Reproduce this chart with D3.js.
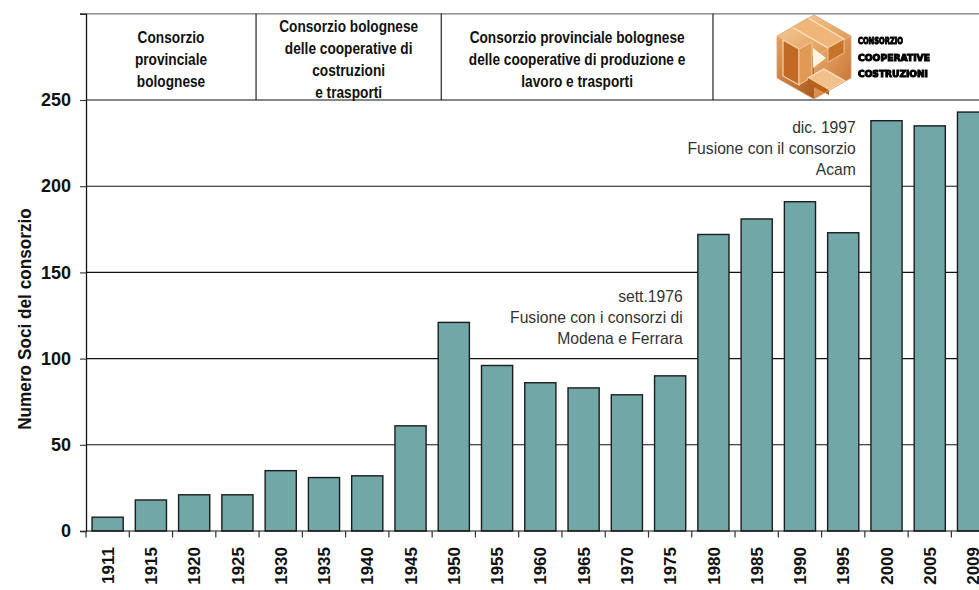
<!DOCTYPE html>
<html>
<head>
<meta charset="utf-8">
<script src="https://cdn.jsdelivr.net/npm/d3@7/dist/d3.min.js"></script>
<style>
  html, body { margin: 0; padding: 0; background: #fff; }
  svg { display: block; }
</style>
</head>
<body>
<script>
// Soci del consorzio per anno
const years = ["1911","1915","1920","1925","1930","1935","1940","1945","1950","1955",
               "1960","1965","1970","1975","1980","1985","1990","1995","2000","2005","2009"];
const members = [8, 18, 21, 21, 35, 31, 32, 61, 121, 96, 86, 83, 79, 90, 172, 181, 191, 173, 238, 235, 243];

const yTickValues = [0, 50, 100, 150, 200, 250, 300];
const yTickLabels = ["0", "50", "100", "150", "200", "250", ""];

const periodNames = [
  ["Consorzio", "provinciale", "bolognese"],
  ["Consorzio bolognese", "delle cooperative di", "costruzioni", "e trasporti"],
  ["Consorzio provinciale bolognese", "delle cooperative di produzione e", "lavoro e trasporti"]
];
const logoWords = ["CONSORZIO", "COOPERATIVE", "COSTRUZIONI"];

const notes = [
  { after: "1975", value: 136, lines: ["sett.1976", "Fusione con i consorzi di", "Modena e Ferrara"] },
  { after: "1995", value: 234, lines: ["dic. 1997", "Fusione con il consorzio", "Acam"] }
];

const W = 979, H = 590;
const plotLeft = 86, plotBottom = 531, plotTop = 13.8;
const step = 43.27;

const svg = d3.select("body").append("svg").attr("width", W).attr("height", H);

const x = d3.scaleBand().domain(years)
  .range([plotLeft, plotLeft + step * years.length])
  .paddingInner(0.28).paddingOuter(0.14);
const y = d3.scaleLinear().domain([0, 300]).range([plotBottom, plotTop]);

const sans = "'Liberation Sans', Arial, sans-serif";

// horizontal grid lines
svg.append("g").selectAll("line").data([50, 100, 150, 200, 250]).join("line")
  .attr("x1", plotLeft).attr("x2", W)
  .attr("y1", d => y(d)).attr("y2", d => y(d))
  .attr("stroke", "#111").attr("stroke-width", 1.1);

// top border of the header band
svg.append("line").attr("x1", plotLeft - 6).attr("x2", W)
  .attr("y1", y(300)).attr("y2", y(300))
  .attr("stroke", "#777").attr("stroke-width", 1.2);

// header band columns (in band steps from the left axis)
const colEdges = [0, 3.93, 8.21, 14.49, 20.63];
const colX = k => plotLeft + colEdges[k] * step;
svg.append("g").selectAll("line").data([1, 2, 3]).join("line")
  .attr("x1", k => colX(k)).attr("x2", k => colX(k))
  .attr("y1", y(300)).attr("y2", y(250))
  .attr("stroke", "#111").attr("stroke-width", 1.1);

// condensed bold captions (horizontally compressed sans)
const headerMid = 59.3, lineGap = 21.8;
periodNames.forEach((lines, k) => {
  const cx = (colX(k) + colX(k + 1)) / 2;
  lines.forEach((s, i) => {
    const ly = headerMid + (i - (lines.length - 1) / 2) * lineGap;
    svg.append("text")
      .attr("transform", `translate(${cx},${ly}) scale(0.855,1)`)
      .attr("text-anchor", "middle").attr("dy", "0.35em")
      .attr("font-family", sans).attr("font-weight", "bold")
      .attr("font-size", 16).attr("fill", "#111").text(s);
  });
});

// logo: orange isometric block with pinwheel bars
const defs = svg.append("defs");
const g1 = defs.append("linearGradient").attr("id", "gTop").attr("x1", 0).attr("y1", 0).attr("x2", 1).attr("y2", 1);
g1.append("stop").attr("offset", 0).attr("stop-color", "#f6d3a6");
g1.append("stop").attr("offset", 1).attr("stop-color", "#dc8c40");
const g2 = defs.append("linearGradient").attr("id", "gLeft").attr("x1", 0).attr("y1", 0).attr("x2", 1).attr("y2", 1);
g2.append("stop").attr("offset", 0).attr("stop-color", "#e3a060");
g2.append("stop").attr("offset", 1).attr("stop-color", "#a9581c");
const g3 = defs.append("linearGradient").attr("id", "gRight").attr("x1", 0).attr("y1", 0).attr("x2", 1).attr("y2", 1);
g3.append("stop").attr("offset", 0).attr("stop-color", "#eeb27a");
g3.append("stop").attr("offset", 1).attr("stop-color", "#c46e2a");
defs.append("filter").attr("id", "soft").append("feGaussianBlur").attr("stdDeviation", 0.45);

const logo = svg.append("g").attr("transform", "translate(814,57)").attr("filter", "url(#soft)");
const P = pts => "M" + pts.map(p => p.join(",")).join("L") + "Z";
// outer faces
logo.append("path").attr("d", P([[0,-42],[37,-21],[0,0],[-37,-21]])).attr("fill", "url(#gTop)");
logo.append("path").attr("d", P([[-37,-21],[0,0],[0,42],[-37,21]])).attr("fill", "url(#gLeft)");
logo.append("path").attr("d", P([[37,-21],[37,21],[0,42],[0,0]])).attr("fill", "url(#gRight)");
// pinwheel bars
logo.append("path").attr("d", P([[-22,-30],[-6,-39],[30,-18],[14,-9]])).attr("fill", "#f0b678").attr("stroke", "#fbe4c8").attr("stroke-width", 1.2);
logo.append("path").attr("d", P([[14,-9],[30,-18],[30,-4],[14,5]])).attr("fill", "#c9722c").attr("stroke", "#f5cfa0").attr("stroke-width", 0.8);
logo.append("path").attr("d", P([[-31,-17],[-15,-8],[-15,28],[-31,19]])).attr("fill", "#c06a25").attr("stroke", "#f7d4ac").attr("stroke-width", 1.2);
logo.append("path").attr("d", P([[-15,-8],[-2,-15],[-2,20],[-15,28]])).attr("fill", "#e19a56").attr("stroke", "#f7d4ac").attr("stroke-width", 0.8);
logo.append("path").attr("d", P([[-6,21],[10,12],[31,24],[15,33]])).attr("fill", "#f2c08a").attr("stroke", "#fbe4c8").attr("stroke-width", 1.2);
logo.append("path").attr("d", P([[-6,21],[15,33],[15,38],[-6,27]])).attr("fill", "#b8621f");
logo.append("path").attr("d", P([[-1,-9],[-1,11],[12,1]])).attr("fill", "#fff3e4");
logo.append("path").attr("d", P([[0,-42],[37,-21],[37,21],[0,42],[-37,21],[-37,-21]]))
  .attr("fill", "none").attr("stroke", "#d8a070").attr("stroke-width", 0.8);

const logoText = svg.append("g").attr("filter", "url(#soft)");
const wordWidths = [45, 72, 70];
logoWords.forEach((w, i) => {
  logoText.append("text")
    .attr("x", 858).attr("y", 41 + i * 16.3).attr("dy", "0.35em")
    .attr("font-family", "'DejaVu Sans', sans-serif").attr("font-weight", 900)
    .attr("font-size", 9.5).attr("textLength", wordWidths[i]).attr("lengthAdjust", "spacingAndGlyphs")
    .attr("stroke", "#000").attr("stroke-width", 1.1)
    .attr("fill", "#000").text(w);
});

// bars
svg.append("g").selectAll("rect").data(years).join("rect")
  .attr("x", d => x(d))
  .attr("width", x.bandwidth())
  .attr("y", (d, i) => y(members[i]))
  .attr("height", (d, i) => y(0) - y(members[i]))
  .attr("fill", "#71a8a7")
  .attr("stroke", "#1c1c1c").attr("stroke-width", 1.4);

// y axis
const yAxis = d3.axisLeft(y).tickValues(yTickValues)
  .tickFormat((d, i) => yTickLabels[i]).tickSize(6).tickPadding(9);
const ya = svg.append("g").attr("transform", `translate(${plotLeft},0)`).call(yAxis);
ya.select(".domain").attr("stroke", "#111").attr("stroke-width", 1.3);
ya.selectAll(".tick line").attr("stroke", "#333").attr("stroke-width", 1.1);
ya.selectAll(".tick text").attr("font-family", sans).attr("font-weight", "bold")
  .attr("font-size", 18).attr("fill", "#111");

// x axis baseline, boundary ticks and rotated year labels
svg.append("line").attr("x1", plotLeft).attr("x2", W).attr("y1", y(0)).attr("y2", y(0))
  .attr("stroke", "#111").attr("stroke-width", 1.2);
const cellStart = d => x(d) - (x.step() - x.bandwidth()) / 2;
svg.append("g").selectAll("line").data(years).join("line")
  .attr("x1", d => cellStart(d)).attr("x2", d => cellStart(d))
  .attr("y1", y(0)).attr("y2", y(0) + 6.5)
  .attr("stroke", "#333").attr("stroke-width", 1.2);
svg.append("g").selectAll("text").data(years).join("text")
  .attr("transform", d => `translate(${x(d) + x.bandwidth() / 2},547) rotate(-90)`)
  .attr("text-anchor", "end").attr("dy", "0.36em")
  .attr("font-family", sans).attr("font-weight", "bold")
  .attr("font-size", 17).attr("fill", "#111").text(d => d);

// y axis title
svg.append("text")
  .attr("transform", "translate(25,319) rotate(-90) scale(0.93,1)")
  .attr("text-anchor", "middle").attr("dy", "0.35em")
  .attr("font-family", sans).attr("font-weight", "bold")
  .attr("font-size", 18.5).attr("fill", "#111")
  .text("Numero Soci del consorzio");

// event notes
notes.forEach(n => {
  const rx = x(n.after) + x.bandwidth() - 3;
  const t = svg.append("text").attr("text-anchor", "end")
    .attr("font-family", sans).attr("font-size", 15.7).attr("fill", "#333");
  n.lines.forEach((s, i) => {
    t.append("tspan").attr("x", rx).attr("y", y(n.value) + i * 20.8).attr("dy", "0.35em").text(s);
  });
});
</script>
</body>
</html>
